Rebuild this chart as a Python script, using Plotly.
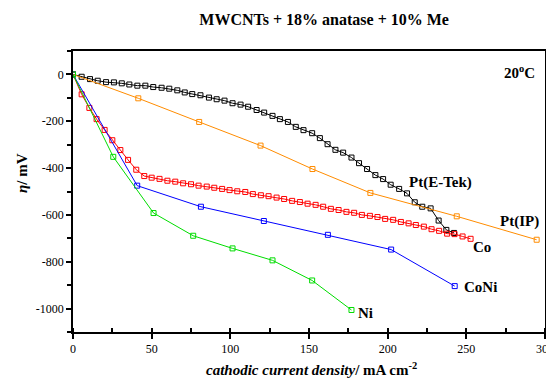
import plotly.graph_objects as go

# ---- data ----
pt_etek_x = [0, 5.5, 10.8, 15.7, 21, 26, 31, 35.8, 40.9, 46, 51, 56.3, 61.2, 66.3, 71, 75.8, 81,
             86.4, 91.3, 96.3, 101.4, 106.5, 111.3, 116.7, 121.5, 126.8, 131.5, 136.6, 141.6,
             146.5, 152, 156.9, 161.8, 166.8, 171.7, 177, 181.8, 186.9, 192.2, 197.1, 201.9,
             207.3, 212.3, 217.2, 222, 227.3, 232.4, 237.3, 242.2]
pt_etek_y = [0, -10, -20, -27, -33, -34, -38, -43, -48, -48, -54, -57, -61, -68, -77, -84, -89,
             -99, -106, -112, -123, -129, -138, -152, -163, -177, -191, -203, -224,
             -238, -251, -272, -298, -322, -334, -355, -379, -404, -430, -447, -471,
             -489, -508, -546, -565, -572, -624, -664, -677]

pt_ip_x = [0, 41.5, 80.2, 119.2, 152.2, 189, 243.9, 294.7]
pt_ip_y = [0, -102, -203, -304, -404, -506, -606, -706]

co_x = [0, 5.5, 10.4, 15, 20.1, 25, 30.1, 35, 40.2, 45.3, 50, 55, 60, 65, 70, 75, 79.8, 85, 89.8,
        94.8, 99.5, 104.4, 109.5, 114.3, 119.4, 124.3, 129.4, 134.2, 139.3, 144.2, 149.1,
        154.2, 159, 163.9, 168.8, 173.8, 178.7, 183.6, 188.7, 193.5, 198.4, 203.5, 208.4,
        213.3, 217.9, 223, 227.9, 232.7, 237.8, 242.5, 247.6, 252.7]
co_y = [0, -85, -143, -191, -237, -281, -323, -365, -407, -434, -441, -446, -454, -458, -465,
        -469, -475, -479, -484, -489, -494, -499, -502, -511, -516, -520, -526, -532, -540,
        -545, -552, -557, -565, -574, -579, -587, -591, -600, -604, -609, -617, -621, -630,
        -636, -643, -650, -661, -668, -680, -682, -692, -702]

coni_x = [0, 40.8, 81.3, 121.3, 162, 202.2, 242.6]
coni_y = [0, -475, -565, -626, -685, -748, -904]

ni_x = [0, 25.6, 51.2, 76.4, 101.4, 126.8, 152, 177]
ni_y = [0, -352, -592, -689, -743, -794, -880, -1006]

x_ticks = [0, 50, 100, 150, 200, 250, 300]
y_ticks = [-1000, -800, -600, -400, -200, 0]
y_tick_text = ["-1000", "-800", "-600", "-400", "-200", "0"]

series = [
    ("Pt(E-Tek)", pt_etek_x, pt_etek_y, "#000000"),
    ("Pt(IP)", pt_ip_x, pt_ip_y, "#ff8c00"),
    ("Co", co_x, co_y, "#ff0000"),
    ("CoNi", coni_x, coni_y, "#0000ff"),
    ("Ni", ni_x, ni_y, "#00dd00"),
]

fig = go.Figure()
for name, xs, ys, col in series:
    fig.add_trace(go.Scatter(
        x=xs, y=ys, mode="lines+markers", name=name,
        line=dict(color=col, width=1),
        marker=dict(symbol="square-open", size=5, color=col, line=dict(width=1, color=col)),
    ))

serif = "Liberation Serif"

labels = [
    ("Pt(E-Tek)", 233.8, -462),
    ("Pt(IP)", 284, -629),
    ("Co", 259.8, -735),
    ("CoNi", 259.2, -907),
    ("Ni", 186.1, -1020),
]
for txt, x, y in labels:
    fig.add_annotation(x=x, y=y, text="<b>%s</b>" % txt, showarrow=False,
                       xanchor="center", yanchor="middle",
                       font=dict(family=serif, size=15, color="black"))

fig.add_annotation(x=294.7, y=12, xanchor="right", yanchor="middle",
                   text="<b>20<sup>o</sup>C</b>",
                   showarrow=False, font=dict(family=serif, size=15, color="black"))

# axis titles
fig.add_annotation(xref="paper", yref="paper", x=0.506, y=-0.130, showarrow=False,
                   xanchor="center", yanchor="middle",
                   text="<b><i>cathodic current density</i>/ mA cm<sup>-2</sup></b>",
                   font=dict(family=serif, size=15, color="black"))
fig.add_annotation(xref="paper", yref="paper", x=-0.108, y=0.566, showarrow=False,
                   xanchor="center", yanchor="middle",
                   textangle=-90, text="<b><i>η</i>/ mV</b>",
                   font=dict(family=serif, size=15, color="black"))

# page body has an 8px default margin: size figure to fit inside the window
fig.update_layout(
    width=546, height=371,
    margin=dict(l=65, r=9, t=43, b=47, autoexpand=False),
    paper_bgcolor="white", plot_bgcolor="white",
    showlegend=False,
    title=dict(text="<b>MWCNTs + 18% anatase + 10% Me</b>", x=0.579, xanchor="center",
               y=0.970, yanchor="middle",
               font=dict(family=serif, size=16, color="black")),
    font=dict(family=serif, size=12, color="black"),
)

fig.update_xaxes(
    range=[0, 300], tickvals=x_ticks, showgrid=False, zeroline=False, automargin=False,
    showline=True, linecolor="black", linewidth=1.5, mirror=True,
    ticks="outside", ticklen=5, tickwidth=1.5, tickcolor="black",
    minor=dict(dtick=25, tick0=0, ticks="inside", ticklen=4, tickwidth=1.5, tickcolor="black"),
    tickfont=dict(family=serif, size=12, color="black"),
)
fig.update_yaxes(
    range=[-1100, 100], tickvals=y_ticks, ticktext=y_tick_text, showgrid=False, zeroline=False,
    automargin=False,
    showline=True, linecolor="black", linewidth=1.5, mirror=True,
    ticks="outside", ticklen=5, tickwidth=1.5, tickcolor="black",
    minor=dict(dtick=100, tick0=0, ticks="outside", ticklen=4, tickwidth=1.5, tickcolor="black"),
    tickfont=dict(family=serif, size=12, color="black"),
)

fig.write_html("out.html")
